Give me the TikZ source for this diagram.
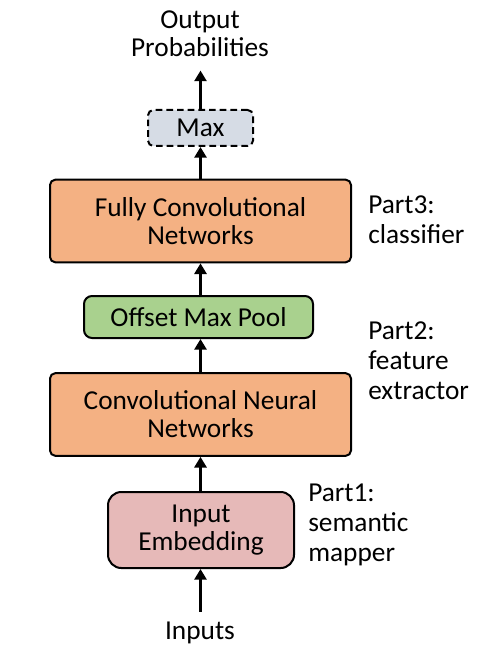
\documentclass[tikz,border=0pt]{standalone}
\usepackage{fontspec}
\setmainfont{Carlito}
\usepackage{xcolor}
\usetikzlibrary{arrows.meta}
\definecolor{fcnorange}{HTML}{F4B183}
\definecolor{poolgreen}{HTML}{A9D18E}
\definecolor{embpink}{HTML}{E6B9B8}
\definecolor{maxgray}{HTML}{D6DCE5}

\begin{document}
\begin{tikzpicture}[x=0.75pt, y=-0.75pt,
  blk/.style={draw, line width=1.5pt, align=center, inner sep=0pt, font=\fontsize{20.5}{21}\selectfont},
  wide/.style={blk, fill=fcnorange, rounded corners=4pt, minimum width=225.75pt, minimum height=62pt},
  pool/.style={blk, fill=poolgreen, rounded corners=6pt, minimum width=171.75pt, minimum height=31.5pt},
  embed/.style={blk, fill=embpink, rounded corners=10pt, minimum width=139.5pt, minimum height=57pt},
  maxbox/.style={blk, fill=maxgray, dashed, dash pattern=on 5pt off 3pt, rounded corners=4pt, minimum width=78.75pt, minimum height=27pt},
  txt/.style={align=center, inner sep=0pt, font=\fontsize{20.5}{21}\selectfont},
  part/.style={align=left, anchor=west, inner sep=0pt, font=\fontsize{20.5}{22.5}\selectfont},
  flow/.style={line width=2.25pt, -{Triangle[length=8pt, width=9pt]}}]
\useasboundingbox (0,0) rectangle (493,659);
\node[txt]    (out)    at (200,34)    {Output\\Probabilities};
\node[maxbox] (max)    at (200.5,128) {Max};
\node[wide]   (fcn)    at (200.5,221) {Fully Convolutional\\Networks};
\node[pool]   (pool)   at (198.5,317) {Offset Max Pool};
\node[wide]   (cnn)    at (200.5,414.5) {Convolutional Neural\\Networks};
\node[embed]  (emb)    at (201,530)   {Input\\Embedding};
\node[txt]    (inputs) at (200,633)   {Inputs};
\coordinate (axis) at (200.5,0);
\draw[flow] (axis |- inputs.north) ++(0,-10) -- (axis |- emb.south);
\draw[flow] (axis |- emb.north) -- (axis |- cnn.south);
\draw[flow] (axis |- cnn.north) -- (axis |- pool.south);
\draw[flow] (axis |- pool.north) -- (axis |- fcn.south);
\draw[flow] (axis |- fcn.north) -- (axis |- max.south);
\draw[flow] (axis |- max.north) -- ([yshift=-10pt]axis |- out.south);
\node[part] (p3) at (368,220) {Part3:\\classifier};
\node[part] (p2) at (368,361) {Part2:\\feature\\extractor};
\node[part] (p1) at (308,525) {Part1:\\semantic\\mapper};
\end{tikzpicture}
\end{document}
